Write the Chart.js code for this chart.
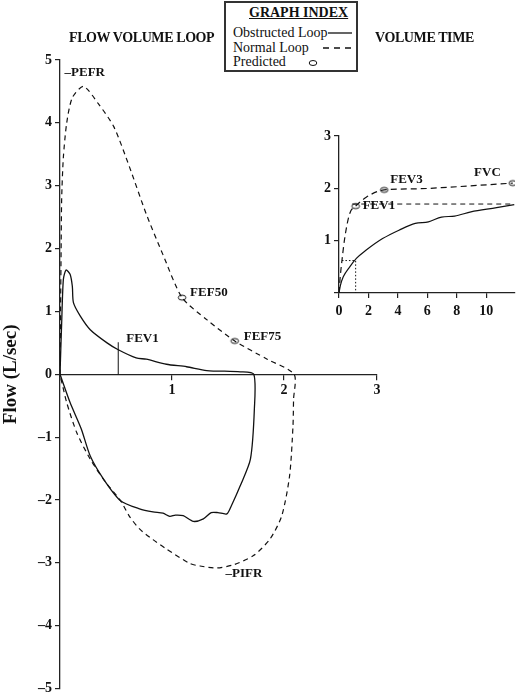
<!DOCTYPE html>
<html>
<head>
<meta charset="utf-8">
<script src="https://cdn.jsdelivr.net/npm/chart.js@4.4.1/dist/chart.umd.min.js"></script>
<style>
  body { margin: 0; background: #fff; font-family: "Liberation Serif", serif; color: #111; }
  #wrap { position: relative; width: 520px; height: 700px; }
  canvas { position: absolute; }
  .ttl { position: absolute; font-weight: bold; font-size: 14px; line-height: 16px; white-space: nowrap; letter-spacing: -0.4px; }
  #index { position: absolute; left: 224px; top: 1px; width: 134px; height: 71px; box-sizing: border-box;
           border: 2px solid #333; background: #fff; }
  #index div { position: absolute; font-size: 14px; line-height: 15px; white-space: nowrap; }
  #index svg { position: absolute; }
</style>
</head>
<body>
<div id="wrap">
  <canvas id="loop" width="520" height="700" style="left:0;top:0"></canvas>
  <canvas id="vt" width="220" height="200" style="left:300px;top:120px"></canvas>
  <div class="ttl" style="left:69px;top:30px">FLOW VOLUME LOOP</div>
  <div class="ttl" style="left:375px;top:30px">VOLUME TIME</div>
  <div id="index">
    <div style="left:23px;top:2px;font-weight:bold;text-decoration:underline">GRAPH INDEX</div>
    <div style="left:7px;top:22px">Obstructed Loop</div>
    <div style="left:7px;top:37px">Normal Loop</div>
    <div style="left:7px;top:51px">Predicted</div>
    <svg style="left:101px;top:27px" width="26" height="6"><line x1="1" y1="3" x2="25" y2="3" stroke="#111" stroke-width="1.3"/></svg>
    <svg style="left:96px;top:42px" width="30" height="6"><line x1="1" y1="3" x2="29" y2="3" stroke="#111" stroke-width="1.3" stroke-dasharray="6,5"/></svg>
    <svg style="left:81px;top:55px" width="12" height="10"><ellipse cx="6" cy="5" rx="3.8" ry="2.5" fill="none" stroke="#111" stroke-width="1"/></svg>
  </div>
</div>
<script>
// ---- flow volume loop: volume (L) vs flow (L/sec)
const normalVol  = [0, 0.005, 0.01, 0.015, 0.03, 0.06, 0.11, 0.21, 0.34, 0.48, 0.62, 0.77, 0.92, 1.09, 1.31, 1.56, 1.85, 2.09,
                    2.085, 2.08, 2.05, 1.98, 1.875, 1.73, 1.55, 1.40, 1.25, 1.16, 0.95, 0.83, 0.71, 0.62, 0.54, 0.40, 0.27, 0.15, 0.06, 0];
const normalFlow = [0, 1.0, 2.0, 2.8, 3.45, 4.0, 4.4, 4.58, 4.31, 3.94, 3.3, 2.55, 1.9, 1.22, 0.87, 0.53, 0.24, 0,
                    -0.4, -0.82, -1.61, -2.25, -2.62, -2.88, -3.03, -3.08, -3.05, -3.01, -2.78, -2.63, -2.46, -2.26, -2.01, -1.7, -1.35, -0.93, -0.45, 0];

const obstrVol  = [0, 0.015, 0.03, 0.054, 0.09, 0.11, 0.12, 0.18, 0.27, 0.42, 0.52, 0.68, 0.77, 0.95, 1.13, 1.31, 1.61, 1.73,
                   1.735, 1.70, 1.61, 1.53, 1.49, 1.41, 1.35, 1.28, 1.19, 1.10, 1.03, 0.98, 0.92, 0.83, 0.71, 0.54, 0.39, 0.27, 0.19, 0.09, 0];
const obstrFlow = [0, 0.82, 1.51, 1.66, 1.59, 1.40, 1.14, 0.93, 0.71, 0.50, 0.39, 0.26, 0.24, 0.16, 0.12, 0.06, 0.04, 0,
                   -0.56, -1.35, -1.77, -2.09, -2.22, -2.20, -2.20, -2.30, -2.34, -2.25, -2.24, -2.26, -2.21, -2.19, -2.14, -2.01, -1.67, -1.30, -0.87, -0.45, 0];

const predLoopNames = ['FEF50', 'FEF75'];
const predLoopVol   = [1.09, 1.56];
const predLoopFlow  = [1.22, 0.53];

const fev1MarkVol  = [0.52, 0.52];
const fev1MarkFlow = [0, 0.51];

const flowTicks = [-5, -4, -3, -2, -1, 0, 1, 2, 3, 4, 5];
const volTicks  = [0, 1, 2, 2.83];          // the drawn axis ends before a full third litre
const volTickLabels = ['', '1', '2', '3'];

// ---- volume time: time (sec) vs volume (L)
const normalTime   = [0, 0.08, 0.2, 0.4, 0.73, 1.13, 1.85, 3.07, 5.2, 7.4, 9.6, 11.8];
const normalVolume = [0, 0.3, 0.62, 1.07, 1.52, 1.66, 1.83, 1.97, 1.99, 2.02, 2.06, 2.1];
const obstrTime    = [0, 0.1, 0.29, 0.73, 1.18, 1.85, 2.96, 4.07, 5.18, 6.07, 6.96, 7.85, 8.96, 10.7, 11.9];
const obstrVolume  = [0, 0.15, 0.31, 0.5, 0.66, 0.82, 1.04, 1.2, 1.33, 1.36, 1.45, 1.47, 1.55, 1.63, 1.69];
const predVtNames  = ['FEV1', 'FEV3', 'FVC'];
const predVtTime   = [1.13, 3.07, 11.8];
const predVtVolume = [1.66, 1.97, 2.1];
const fvcLineTime  = [0.9, 11.9];
const fvcLineVol   = [1.7, 1.7];
const fev1DotTime  = [0.2, 1.13, 1.13];
const fev1DotVol   = [0.62, 0.62, 0];

const INK = '#111';
const FONT = '"Liberation Serif", serif';

function pts(xs, ys) { return xs.map((v, i) => ({ x: v, y: ys[i] })); }

// small open ellipse used as the "predicted" marker
const ellipse = document.createElement('canvas');
ellipse.width = 12; ellipse.height = 9;
(function () {
  const c = ellipse.getContext('2d');
  c.strokeStyle = INK; c.lineWidth = 1;
  c.beginPath(); c.ellipse(6, 4.5, 3.8, 2.5, 0, 0, Math.PI * 2); c.stroke();
})();

const pointLabels = {
  id: 'pointLabels',
  afterDatasetsDraw(chart, args, opts) {
    const ctx = chart.ctx, xs = chart.scales.x, ys = chart.scales.y;
    ctx.save();
    ctx.font = 'bold 13px ' + FONT;
    ctx.fillStyle = INK;
    ctx.textBaseline = 'middle';
    for (const it of opts.items) {
      ctx.textAlign = it.align || 'left';
      ctx.fillText(it.text, xs.getPixelForValue(it.x) + it.dx, ys.getPixelForValue(it.y) + it.dy);
    }
    ctx.restore();
  }
};

function axisStyle() {
  return {
    grid: { drawOnChartArea: false, color: '#222', lineWidth: 1.2, tickLength: 5 },
    border: { display: true, color: '#222', width: 1.3 },
  };
}

// Flow volume loop
new Chart(document.getElementById('loop'), {
  type: 'line',
  data: {
    datasets: [
      { data: pts(normalVol, normalFlow), borderColor: INK, borderWidth: 1.2, borderDash: [5, 4], tension: 0.25, pointRadius: 0 },
      { data: pts(obstrVol, obstrFlow), borderColor: INK, borderWidth: 1.3, tension: 0.25, pointRadius: 0 },
      { data: pts(fev1MarkVol, fev1MarkFlow), borderColor: INK, borderWidth: 1, pointRadius: 0 },
      { data: pts(predLoopVol, predLoopFlow), showLine: false, pointStyle: ellipse, pointRadius: 4 }
    ]
  },
  options: {
    responsive: false, animation: false, events: [],
    layout: { padding: { left: 0, right: 143, top: 60, bottom: 10 } },
    plugins: {
      legend: { display: false }, tooltip: { enabled: false },
      pointLabels: {
        items: [
          { text: '–PEFR', x: 0.21, y: 4.58, dx: -19, dy: -14 },
          { text: predLoopNames[0], x: predLoopVol[0], y: predLoopFlow[0], dx: 8, dy: -5 },
          { text: predLoopNames[1], x: predLoopVol[1], y: predLoopFlow[1], dx: 9, dy: -4 },
          { text: 'FEV1', x: fev1MarkVol[1], y: fev1MarkFlow[1], dx: 8, dy: -4 },
          { text: '–PIFR', x: 1.37, y: -3.08, dx: 12, dy: 6 }
        ]
      }
    },
    scales: {
      x: Object.assign(axisStyle(), {
        type: 'linear', position: { y: 0 }, min: 0, max: volTicks[volTicks.length - 1],
        afterBuildTicks: s => { s.ticks = volTicks.map(v => ({ value: v })); },
        ticks: { color: INK, font: { family: FONT, size: 14, weight: 'bold' }, padding: 3,
                 callback: (v, i) => volTickLabels[i] }
      }),
      y: Object.assign(axisStyle(), {
        type: 'linear', min: -5, max: 5,
        afterBuildTicks: s => { s.ticks = flowTicks.map(v => ({ value: v })); },
        afterFit: s => { s.width = 60; },
        ticks: { color: INK, font: { family: FONT, size: 14, weight: 'bold' }, padding: 3,
                 callback: v => v < 0 ? '–' + (-v) : String(v) },
        title: { display: true, text: 'Flow (L/sec)', color: INK, padding: 0,
                 font: { family: FONT, size: 19, weight: 'bold' } }
      })
    }
  },
  plugins: [pointLabels]
});

// Volume time inset
new Chart(document.getElementById('vt'), {
  type: 'line',
  data: {
    datasets: [
      { data: pts(normalTime, normalVolume), borderColor: INK, borderWidth: 1.2, borderDash: [6, 4], cubicInterpolationMode: 'monotone', pointRadius: 0 },
      { data: pts(obstrTime, obstrVolume), borderColor: INK, borderWidth: 1.2, cubicInterpolationMode: 'monotone', pointRadius: 0 },
      { data: pts(fvcLineTime, fvcLineVol), borderColor: INK, borderWidth: 1, borderDash: [5, 4], pointRadius: 0 },
      { data: pts(fev1DotTime, fev1DotVol), borderColor: INK, borderWidth: 1, borderDash: [1.5, 2], pointRadius: 0 },
      { data: pts(predVtTime, predVtVolume), showLine: false, pointStyle: ellipse, pointRadius: 4 }
    ]
  },
  options: {
    responsive: false, animation: false, events: [],
    layout: { padding: { left: 0, right: 2, top: 16, bottom: 0 } },
    plugins: {
      legend: { display: false }, tooltip: { enabled: false },
      pointLabels: {
        items: [
          { text: predVtNames[0], x: predVtTime[0], y: predVtVolume[0], dx: 7, dy: 0 },
          { text: predVtNames[1], x: predVtTime[1], y: predVtVolume[1], dx: 6, dy: -10 },
          { text: predVtNames[2], x: predVtTime[2], y: predVtVolume[2], dx: -12, dy: -10, align: 'right' }
        ]
      }
    },
    scales: {
      x: Object.assign(axisStyle(), {
        type: 'linear', min: 0, max: 11.95,
        afterFit: s => { s.height = 27; },
        ticks: { stepSize: 2, includeBounds: false, color: INK, padding: 5,
                 font: { family: FONT, size: 14, weight: 'bold' } }
      }),
      y: Object.assign(axisStyle(), {
        type: 'linear', min: 0, max: 3,
        afterFit: s => { s.width = 39; },
        ticks: { stepSize: 1, color: INK, padding: 3,
                 font: { family: FONT, size: 14, weight: 'bold' },
                 callback: v => v === 0 ? '' : String(v) }
      })
    }
  },
  plugins: [pointLabels]
});
</script>
</body>
</html>
